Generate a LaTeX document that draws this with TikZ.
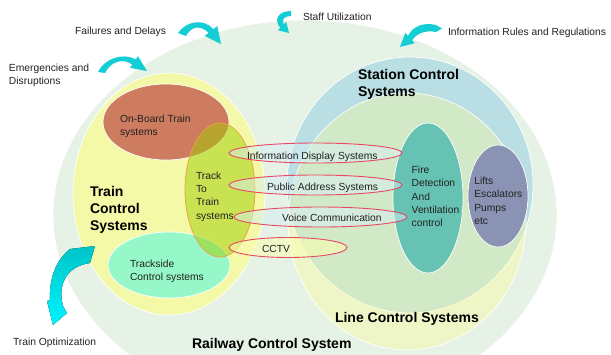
\documentclass[tikz,border=0pt]{standalone}
\usepackage{fontspec}
\setmainfont{Liberation Sans}
\definecolor{railbg}{RGB}{229,242,229}
\definecolor{trainyel}{RGB}{243,249,166}
\definecolor{onboard}{RGB}{205,124,96}
\definecolor{tracksidemint}{RGB}{150,248,200}
\definecolor{tracklime}{RGB}{160,205,0}
\definecolor{trackedge}{RGB}{240,160,60}
\definecolor{stationblue}{RGB}{185,222,227}
\definecolor{lineyel}{RGB}{255,255,146}
\definecolor{firegreen}{RGB}{102,194,179}
\definecolor{liftsgrey}{RGB}{138,147,179}
\definecolor{ringred}{RGB}{232,72,100}
\definecolor{ringfill}{RGB}{215,238,245}
\definecolor{cctvfill}{RGB}{250,252,180}
\definecolor{curlcyan}{RGB}{20,206,214}
\definecolor{curldark}{RGB}{0,196,200}
\definecolor{curlbright}{RGB}{0,244,255}
\definecolor{txt}{RGB}{34,34,34}
\begin{document}
\begin{tikzpicture}[x=1pt,y=-1pt,
  every node/.style={inner sep=0pt,outer sep=0pt,text=txt},
  lbl/.style={font=\fontsize{10.3}{13.3}\selectfont,anchor=base west,align=left},
  ttl/.style={font=\fontsize{14}{17}\selectfont\bfseries,anchor=base west,align=left,text=black},
  zone/.style={draw=white,line width=0.7pt},
  ring/.style={draw=ringred,line width=0.9pt,fill=ringfill,fill opacity=0.5},
  curl/.style={fill=curlcyan,draw=none},
]
\useasboundingbox (0,0) rectangle (611,354);
\fill[white] (0,0) rectangle (611,354);
\clip (0,0) rectangle (611,354);

% railway control system
\path[zone,fill=railbg] (305,215) ellipse [x radius=252,y radius=195];

% train control systems
\path[zone,fill=trainyel] (169,194) ellipse [x radius=96,y radius=121];
\path[zone,fill=onboard] (166,122) ellipse [x radius=63,y radius=38];
\path[zone,fill=tracksidemint] (169,265) ellipse [x radius=61,y radius=33];
\path[draw=trackedge,line width=0.7pt,fill=tracklime,fill opacity=0.5] (220,190) ellipse [x radius=35,y radius=67];

% station and line control systems
\path[zone,fill=stationblue] (410,185) ellipse [x radius=123,y radius=128];
\path[zone,fill=lineyel,fill opacity=0.35] (407,221.5) ellipse [x radius=119,y radius=128.5];
\path[zone,fill=firegreen] (428,198) ellipse [x radius=35,y radius=75];
\path[zone,fill=liftsgrey] (498,196) ellipse [x radius=30,y radius=51];

% shared systems
\path[ring] (315.5,153) ellipse [x radius=86.5,y radius=10];
\path[ring] (315.5,185) ellipse [x radius=86.5,y radius=10];
\path[ring] (320.5,217) ellipse [x radius=86.5,y radius=10];
\path[ring,fill=cctvfill,fill opacity=0.6] (288,247.5) ellipse [x radius=59,y radius=10];

% curved arrows
\fill[curl] (178,33) .. controls (186,21) and (204,18) .. (213.4,29.2) -- (217.3,26.1) -- (221,44) -- (204.7,35.9) -- (208.6,32.8) .. controls (201,25) and (191,26) .. (186,36) -- cycle;
\fill[curl] (98,72) .. controls (104,59) and (123,52) .. (135.7,59.5) -- (138,56.2) -- (147,71) -- (130,67.8) -- (132.3,64.5) .. controls (123,58) and (111,61) .. (105,73) -- cycle;
\fill[curl] (291,11) -- (291,16) .. controls (285,16) and (281,19) .. (283.8,24.2) -- (286.2,21.8) -- (289,33) -- (277.8,30.2) -- (280.2,27.8) .. controls (273,19) and (279,11) .. (291,11) -- cycle;
\fill[curl] (442,28.5) -- (436,25) .. controls (424,22) and (413,26) .. (408,35.8) -- (405.3,32.8) -- (400,47) -- (414.7,43.2) -- (412,40.2) .. controls (417,33) and (426,30) .. (436,32) -- cycle;
\fill[top color=curldark,bottom color=curlbright] (70,249) -- (95,246) -- (90,263) .. controls (68,266) and (57,283) .. (63,306) -- (67,313) -- (53,325) -- (47,301) -- (50,300) .. controls (49,278) and (56,260) .. (70,249) -- cycle;

% outside labels (multi-line nodes sit on the baseline of their last line)
\node[lbl] (failures) at (75,34.5) {Failures and Delays};
\node[lbl] (emerg) at (9,84.8) {Emergencies and\\Disruptions};
\node[lbl] (staff) at (303,20) {Staff Utilization};
\node[lbl] (rules) at (448,35) {Information Rules and Regulations};
\node[lbl] (optim) at (13,345) {Train Optimization};

% titles
\node[ttl] (railway) at (192,348) {Railway Control System};
\node[ttl] (station) at (358,96) {Station Control\\Systems};
\node[ttl] (train) at (90,230) {Train\\Control\\Systems};
\node[ttl] (line) at (335,322) {Line Control Systems};

% inner labels
\node[lbl] (onboardlbl) at (120,135.5) {On-Board Train\\systems};
\node[lbl] (t2t) at (196,219) {Track\\To\\Train\\systems};
\node[lbl] (tracksidelbl) at (130,280.5) {Trackside\\Control systems};
\node[lbl] (info) at (247,159) {Information Display Systems};
\node[lbl] (pa) at (267,190.5) {Public Address Systems};
\node[lbl] (voice) at (282,221.5) {Voice Communication};
\node[lbl] (cctv) at (262,252.5) {CCTV};
\node[lbl] (fire) at (411.7,226.7) {Fire\\Detection\\And\\Ventilation\\control};
\node[lbl] (lifts) at (474.3,224.5) {Lifts\\Escalators\\Pumps\\etc};
\end{tikzpicture}
\end{document}
